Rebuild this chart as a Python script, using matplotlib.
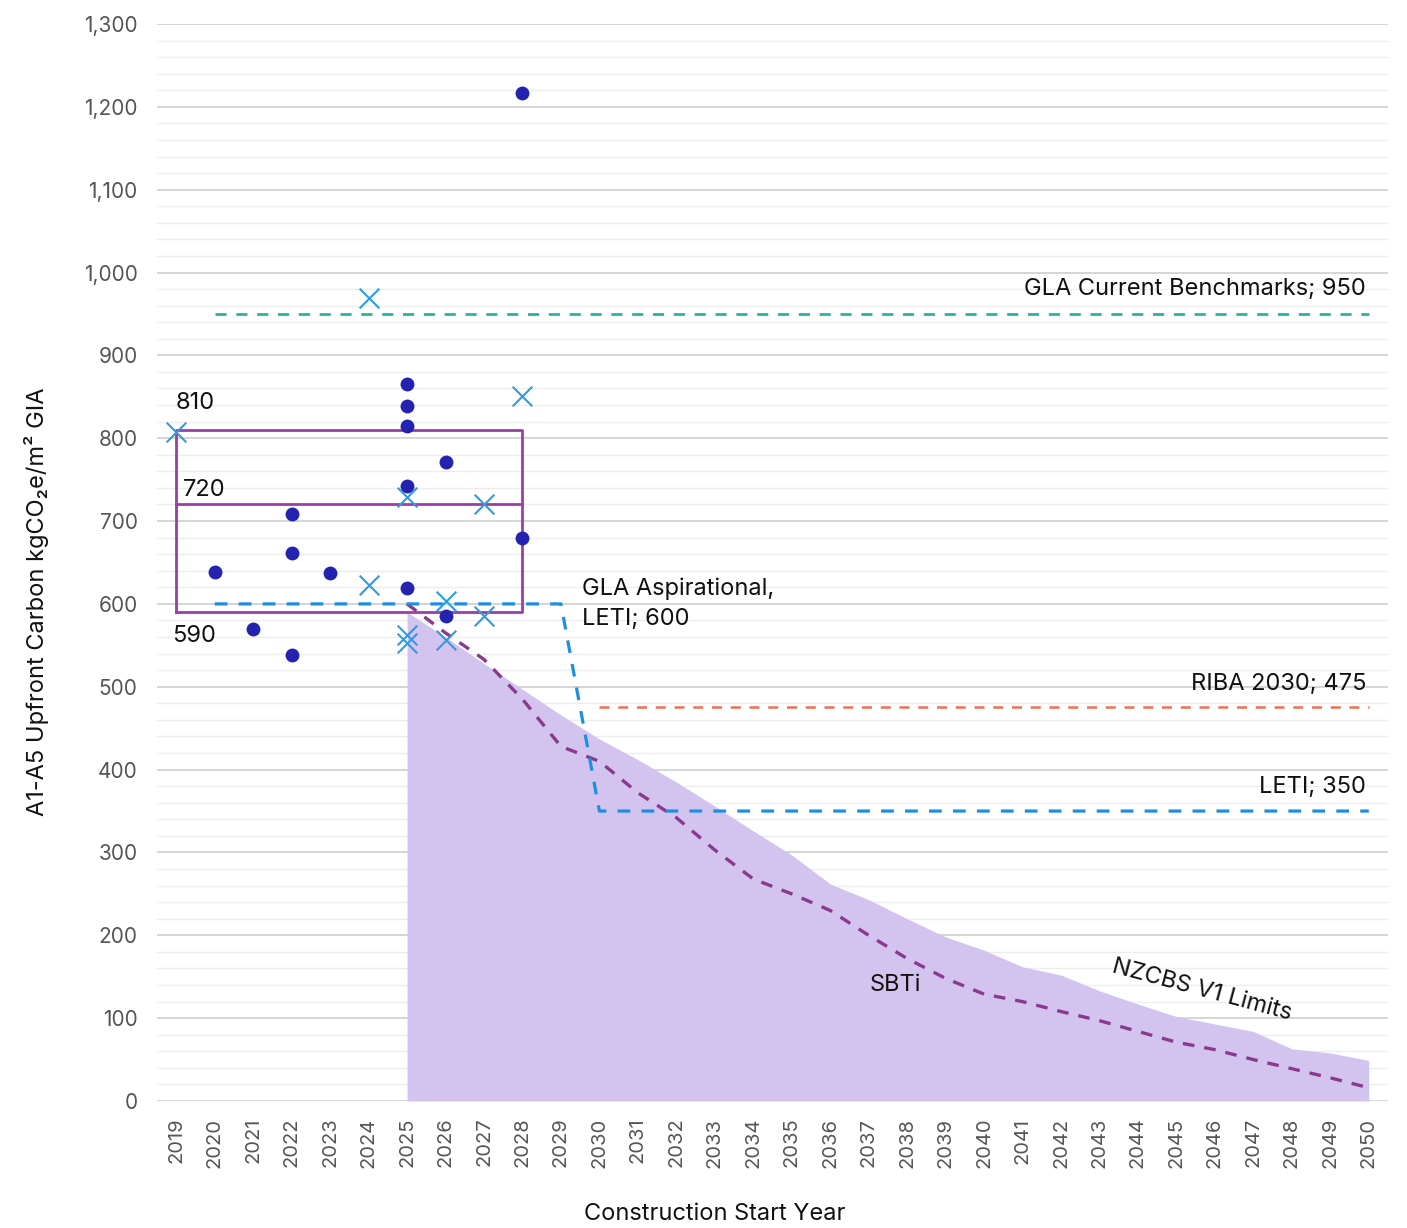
import matplotlib
matplotlib.use("Agg")
import matplotlib.pyplot as plt
import numpy as np

plt.rcParams['font.family'] = ['Inter', 'DejaVu Sans']

years = list(range(2019, 2051))

# project results (dots) and benchmark/other projects (crosses)
dot_x = [2020, 2021, 2022, 2022, 2022, 2023, 2025, 2025, 2025, 2025, 2025, 2026, 2026, 2028, 2028]
dot_y = [638, 570, 708, 661, 538, 637, 866, 839, 815, 742, 619, 771, 585, 1217, 679]
cross_x = [2019, 2024, 2024, 2025, 2025, 2025, 2026, 2026, 2027, 2027, 2028]
cross_y = [808, 969, 623, 729, 562, 553, 604, 557, 721, 585, 851]

# trajectories 2025-2050
traj_years = list(range(2025, 2051))
nzcbs = [590, 560, 528, 497, 466, 437, 412, 385, 356, 326, 297, 262, 243, 220, 198,
         182, 162, 152, 133, 117, 102, 93, 84, 63, 58, 49]
sbti = [600, 565, 533, 485, 428, 410, 372, 342, 303, 268, 250, 230, 200, 172, 148,
        129, 120, 108, 97, 84, 71, 62, 50, 39, 28, 16]

# benchmark lines
gla_x, gla_y = [2020, 2050], [950, 950]
leti_x, leti_y = [2020, 2029, 2030, 2050], [600, 600, 350, 350]
riba_x, riba_y = [2030, 2050], [475, 475]

# range box
box_x0, box_x1 = 2019, 2028
box_lo, box_mid, box_hi = 590, 720, 810

fig = plt.figure(figsize=(14.07, 12.28), dpi=100)
ax = fig.add_axes([0.1116, 0.1034, 0.8749, 0.8771])

ax.set_xlim(2018.5, 2050.5)
ax.set_ylim(0, 1300)

ax.set_yticks(np.arange(0, 1301, 100))
ax.set_yticks(np.arange(0, 1301, 20), minor=True)
ax.set_yticklabels([f"{v:,}" for v in range(0, 1301, 100)])
ax.set_xticks(years)
ax.set_xticklabels([str(y) for y in years], rotation=90)
ax.grid(axis='y', which='major', color='#d2d2d2', lw=1.3, zorder=0)
ax.grid(axis='y', which='minor', color='#ededed', lw=1.0, zorder=0)
ax.grid(axis='x', visible=False)
ax.set_axisbelow(True)
for s in ax.spines.values():
    s.set_visible(False)
ax.tick_params(axis='both', which='both', length=0)
ax.tick_params(axis='y', labelsize=15, labelcolor='#555555', pad=14)
ax.tick_params(axis='x', labelsize=14.5, labelcolor='#555555', pad=12)

ax.fill_between(traj_years, nzcbs, 0, color='#d3c4ef', lw=0, zorder=1)
ax.plot(traj_years, sbti, color='#8a3a8c', lw=2.4, dashes=(3.5, 3), zorder=3)

ax.plot(gla_x, gla_y, color='#2bb39e', lw=2, dashes=(4, 3.5), zorder=3)
ax.plot(leti_x, leti_y, color='#1e8fe0', lw=2.3, dashes=(4, 3.5), zorder=3)
ax.plot(riba_x, riba_y, color='#ee6f55', lw=1.8, dashes=(4, 3.5), zorder=3)

ax.plot([box_x0, box_x1, box_x1, box_x0, box_x0], [box_lo, box_lo, box_hi, box_hi, box_lo],
        color='#9a3fa8', lw=2, zorder=4)
ax.plot([box_x0, box_x1], [box_mid, box_mid], color='#9a3fa8', lw=2, zorder=4)

ax.scatter(dot_x, dot_y, s=100, color='#2323b0', zorder=5, lw=0)
ax.scatter(cross_x, cross_y, s=200, marker='x', color='#2b9de2', lw=1.5, zorder=5)

tk = dict(fontsize=17, color='#111111', zorder=6)
ax.text(2018.98, 842, "810", ha='left', va='center', **tk)
ax.text(2019.18, 738, "720", ha='left', va='center', **tk)
ax.text(2018.9, 561, "590", ha='left', va='center', **tk)
ax.text(2029.55, 600, "GLA Aspirational,\nLETI; 600", ha='left', va='center',
        linespacing=1.45, **tk)
ax.text(2049.93, 980, "GLA Current Benchmarks; 950", ha='right', va='center', **tk)
ax.text(2049.93, 503, "RIBA 2030; 475", ha='right', va='center', **tk)
ax.text(2049.93, 379, "LETI; 350", ha='right', va='center', **tk)
ax.text(2037.7, 140, "SBTi", ha='center', va='center', **tk)
ax.text(2045.66, 134, "NZCBS V1 Limits", ha='center', va='center', rotation=-15,
        rotation_mode='anchor', **tk)

ax.set_ylabel("A1-A5 Upfront Carbon kgCO₂e/m² GIA", fontsize=17, color='#111111')
ax.yaxis.set_label_coords(-0.088, 0.464)
ax.set_xlabel("Construction Start Year", fontsize=17, color='#111111')
ax.xaxis.set_label_coords(0.453, -0.095)

fig.savefig("out.png", dpi=100, facecolor='white')
